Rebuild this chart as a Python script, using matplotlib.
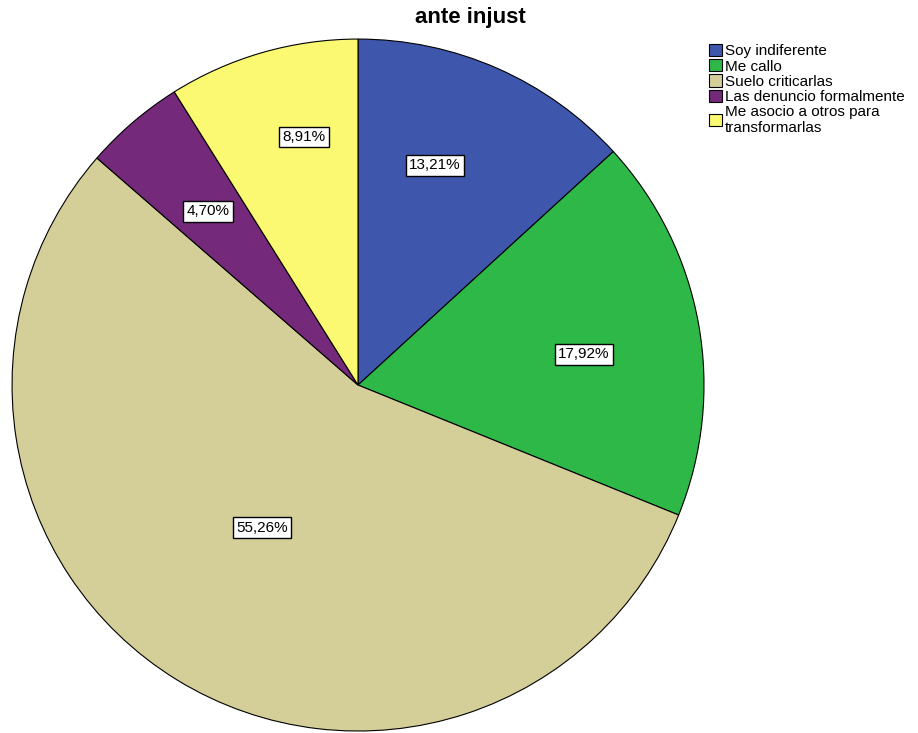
import matplotlib.pyplot as plt
import numpy as np

plt.rcParams['font.family'] = ['Liberation Sans', 'DejaVu Sans']

categories = ["Soy indiferente", "Me callo", "Suelo criticarlas",
              "Las denuncio formalmente", "Me asocio a otros para\ntransformarlas"]
values = [13.21, 17.92, 55.26, 4.70, 8.91]
colors = ["#3e57ac", "#2eb848", "#d4cf98", "#74297a", "#fbf971"]
# where each percentage box sits: fraction of radius, turn from the wedge middle (deg)
label_dist = [0.673, 0.659, 0.497, 0.664, 0.734]
label_turn = [4.5, -2.4, -2.4, 0.3, -3.7]

fig = plt.figure(figsize=(9.18, 7.33), dpi=100)
ax = fig.add_axes([0.0131, 0.0027, 0.7538, 0.944])

wedges, _ = ax.pie(values, colors=colors, startangle=90, counterclock=False,
                   radius=1.0, wedgeprops=dict(edgecolor="black", linewidth=0.8))

for w, v, d, t in zip(wedges, values, label_dist, label_turn):
    ang = np.radians((w.theta1 + w.theta2) / 2 + t)
    x, y = d * np.cos(ang), d * np.sin(ang)
    ax.text(x, y, f"{v:.2f}%".replace(".", ","), ha="center", va="center", fontsize=11,
            bbox=dict(boxstyle="square,pad=0.22", facecolor="white", edgecolor="black", linewidth=1))

ax.set_xlim(-1, 1)
ax.set_ylim(-1, 1)
ax.set_aspect("equal")
ax.axis("off")

fig.text(470 / 918, 1 - 18 / 733, "ante injust", ha="center", va="center",
         fontsize=16, fontweight="bold")

fig.legend(wedges, categories, loc="upper left", bbox_to_anchor=(703 / 918, 1 - 38 / 733),
           frameon=False, fontsize=11, handlelength=0.85, handleheight=0.85,
           handletextpad=0.2, labelspacing=0.05, borderaxespad=0)

fig.savefig("out.png", dpi=100)
